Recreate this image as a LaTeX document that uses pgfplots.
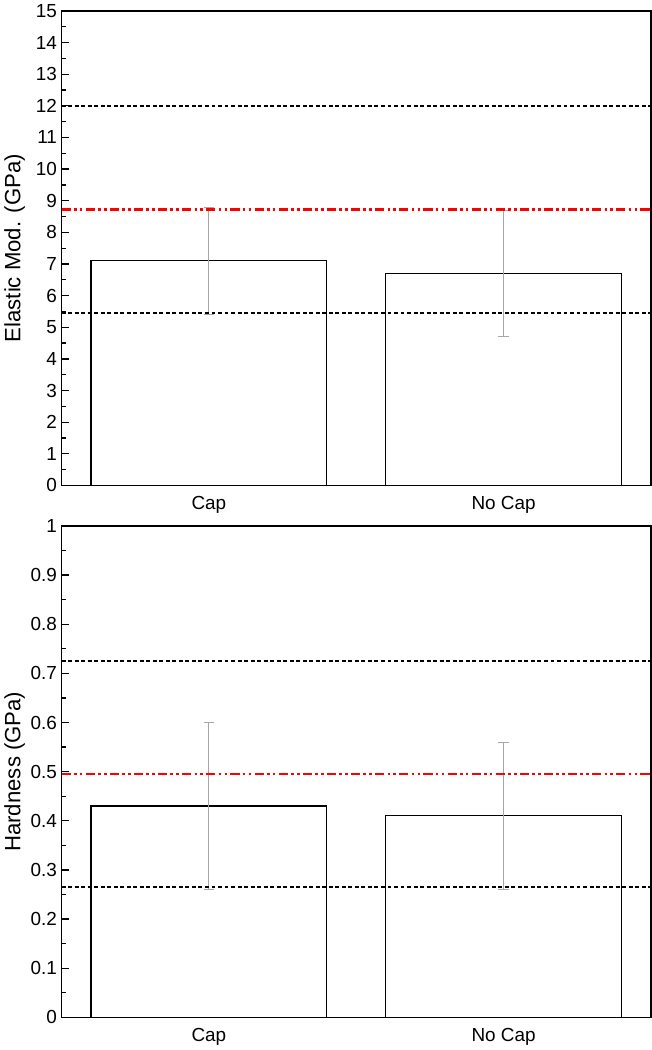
\documentclass[border=0pt]{standalone}
\usepackage{fontspec}
\setmainfont{Liberation Sans}
\usepackage{pgfplots}
\pgfplotsset{compat=1.18}

\pgfplotsset{
  panel/.style={
    scale only axis,
    width=452pt,
    xmin=-0.5, xmax=1.5,
    xtick={0,1},
    xticklabels={Cap, No Cap},
    major x tick style={draw=none},
    ytick pos=left,
    tick align=inside,
    minor y tick num=1,
    major tick length=6pt,
    minor tick length=3.5pt,
    axis line style={line width=1.2pt},
    every tick/.style={black, line width=1pt},
    tick label style={font=\fontsize{14.5}{17}\selectfont},
    /pgf/number format/assume math mode=true,
    every axis y label/.style={at={(axis description cs:0,0.5)}, xshift=-36pt, rotate=90, anchor=center,
      font=\fontsize{17}{20}\selectfont},
    xticklabel style={yshift=-5pt},
  },
  bars/.style={ybar, bar width=0.8, fill=white, draw=black, line width=0.9pt,
    error bars/.cd, y dir=both, y explicit,
    error bar style={gray!70, line width=0.7pt},
    error mark options={gray!70, rotate=90, mark size=4pt, line width=0.7pt}},
  bounds/.style={black, line width=1.1pt, dash pattern=on 3pt off 2pt},
  redline/.style={red, line width=1.8pt, dash pattern=on 7pt off 2.5pt on 2pt off 2.5pt on 2pt off 2.5pt},
}

\begin{document}
\begin{tikzpicture}
\begin{axis}[panel, at={(0,408pt)}, anchor=south west, height=364pt,
  ymin=0, ymax=15, ytick={0,1,...,15},
  ylabel={Elastic Mod. (GPa)}]
  \addplot[bars] coordinates {
    (0,7.1) +- (0,1.7)
    (1,6.7) +- (0,2.0)
  };
  \addplot[bounds] coordinates {(-0.5,12.0) (1.5,12.0)};
  \addplot[bounds] coordinates {(-0.5,5.45) (1.5,5.45)};
  \addplot[redline] coordinates {(-0.5,8.72) (1.5,8.72)};
\end{axis}

\begin{axis}[panel, at={(0,0)}, anchor=south west, height=377pt,
  ymin=0, ymax=1, ytick={0,0.1,...,1.0},
  yticklabel style={/pgf/number format/fixed},
  ylabel={Hardness (GPa)}]
  \addplot[bars] coordinates {
    (0,0.43) +- (0,0.17)
    (1,0.41) +- (0,0.15)
  };
  \addplot[bounds] coordinates {(-0.5,0.725) (1.5,0.725)};
  \addplot[bounds] coordinates {(-0.5,0.265) (1.5,0.265)};
  \addplot[redline] coordinates {(-0.5,0.495) (1.5,0.495)};
\end{axis}
\end{tikzpicture}
\end{document}
